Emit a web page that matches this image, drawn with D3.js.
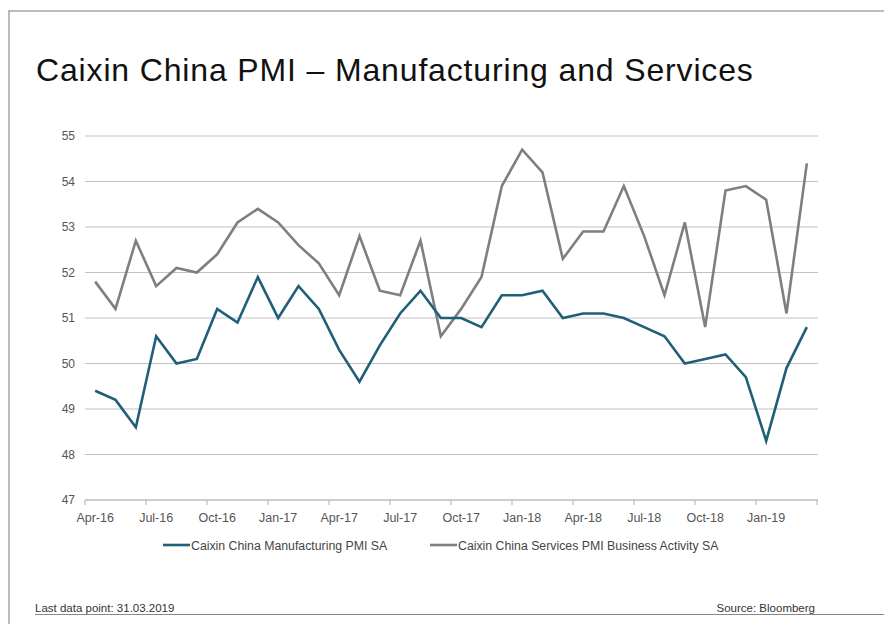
<!DOCTYPE html>
<html>
<head>
<meta charset="utf-8">
<script src="https://cdn.jsdelivr.net/npm/d3@7"></script>
<style>
  html, body { margin: 0; padding: 0; background: #fff; }
  svg { display: block; font-family: "Liberation Sans", Arial, sans-serif; }
</style>
</head>
<body>
<svg id="chart" width="884" height="624"></svg>
<script>
const months = ["Apr-16","May-16","Jun-16","Jul-16","Aug-16","Sep-16","Oct-16","Nov-16","Dec-16",
  "Jan-17","Feb-17","Mar-17","Apr-17","May-17","Jun-17","Jul-17","Aug-17","Sep-17","Oct-17","Nov-17","Dec-17",
  "Jan-18","Feb-18","Mar-18","Apr-18","May-18","Jun-18","Jul-18","Aug-18","Sep-18","Oct-18","Nov-18","Dec-18",
  "Jan-19","Feb-19","Mar-19"];
const manufacturing = [49.4,49.2,48.6,50.6,50.0,50.1,51.2,50.9,51.9,
  51.0,51.7,51.2,50.3,49.6,50.4,51.1,51.6,51.0,51.0,50.8,51.5,
  51.5,51.6,51.0,51.1,51.1,51.0,50.8,50.6,50.0,50.1,50.2,49.7,
  48.3,49.9,50.8];
const services = [51.8,51.2,52.7,51.7,52.1,52.0,52.4,53.1,53.4,
  53.1,52.6,52.2,51.5,52.8,51.6,51.5,52.7,50.6,51.2,51.9,53.9,
  54.7,54.2,52.3,52.9,52.9,53.9,52.8,51.5,53.1,50.8,53.8,53.9,
  53.6,51.1,54.4];
const yTicks = [47,48,49,50,51,52,53,54,55];
const xLabels = ["Apr-16","Jul-16","Oct-16","Jan-17","Apr-17","Jul-17","Oct-17","Jan-18","Apr-18","Jul-18","Oct-18","Jan-19"];
const seriesNames = ["Caixin China Manufacturing PMI SA","Caixin China Services PMI Business Activity SA"];
const colors = ["#1f5f77","#7f7f7f"];

const svg = d3.select("#chart");

// frame
svg.append("line").attr("x1",8).attr("x2",884).attr("y1",11).attr("y2",11)
  .attr("stroke","#a6a6a6").attr("stroke-width",1.5);
svg.append("line").attr("x1",9).attr("x2",9).attr("y1",11).attr("y2",624)
  .attr("stroke","#a6a6a6").attr("stroke-width",1.5);

// title
svg.append("text").attr("x",36).attr("y",81)
  .attr("font-size",32).attr("letter-spacing","0.85px").attr("fill","#111")
  .text("Caixin China PMI \u2013 Manufacturing and Services");

const x = d3.scaleBand().domain(months).range([85, 817]).paddingInner(0).paddingOuter(0);
const y = d3.scaleLinear().domain([47,55]).range([500,136]);

// gridlines
svg.append("g").selectAll("line").data(yTicks.filter(d => d !== 47)).join("line")
  .attr("x1",85).attr("x2",818)
  .attr("y1",d => y(d)).attr("y2",d => y(d))
  .attr("stroke","#c2c2c2").attr("stroke-width",1.2);

// y axis labels
const yAxis = d3.axisLeft(y).tickValues(yTicks).tickSize(0).tickPadding(10);
const gy = svg.append("g").attr("transform","translate(85,0)").call(yAxis);
gy.select(".domain").remove();
gy.selectAll("text").attr("font-size",12).attr("fill","#555").attr("font-family","Liberation Sans, Arial, sans-serif");

// x axis baseline
svg.append("line").attr("x1",85).attr("x2",818).attr("y1",500).attr("y2",500)
  .attr("stroke","#bdbdbd").attr("stroke-width",1.5);
// x tick marks at category boundaries every 3 months
const tickPos = months.filter((m,i) => i % 3 === 0).map(m => x(m)).concat([x.range()[1]]);
svg.append("g").selectAll("line").data(tickPos).join("line")
  .attr("x1",d => d).attr("x2",d => d).attr("y1",500).attr("y2",505)
  .attr("stroke","#bdbdbd").attr("stroke-width",1.2);
// x labels
svg.append("g").selectAll("text").data(xLabels).join("text")
  .attr("x",d => x(d) + x.bandwidth()/2).attr("y",522)
  .attr("text-anchor","middle").attr("font-size",12.5).attr("fill","#555")
  .text(d => d);

// lines
const line = d3.line().x((d,i) => x(months[i]) + x.bandwidth()/2).y(d => y(d));
[services, manufacturing].forEach((s, k) => {
  const c = k === 0 ? colors[1] : colors[0];
  svg.append("path").datum(s).attr("d", line)
    .attr("fill","none").attr("stroke", c).attr("stroke-width",2.6)
    .attr("stroke-linejoin","miter");
});

// legend
const legendX = [163, 430];
seriesNames.forEach((n,i) => {
  const g = svg.append("g").attr("transform",`translate(${legendX[i]},545)`);
  g.append("line").attr("x1",0).attr("x2",27).attr("y1",0).attr("y2",0)
    .attr("stroke",colors[i]).attr("stroke-width",2.6);
  g.append("text").attr("x",28).attr("y",4.5).attr("font-size",12.3).attr("fill","#444").text(n);
});

// footer
svg.append("line").attr("x1",35).attr("x2",884).attr("y1",614.5).attr("y2",614.5)
  .attr("stroke","#888").attr("stroke-width",1.2);
svg.append("text").attr("x",35).attr("y",612).attr("font-size",11.5).attr("fill","#333")
  .text("Last data point: 31.03.2019");
svg.append("text").attr("x",815).attr("y",612).attr("text-anchor","end").attr("font-size",11.5).attr("fill","#333")
  .text("Source: Bloomberg");
</script>
</body>
</html>
